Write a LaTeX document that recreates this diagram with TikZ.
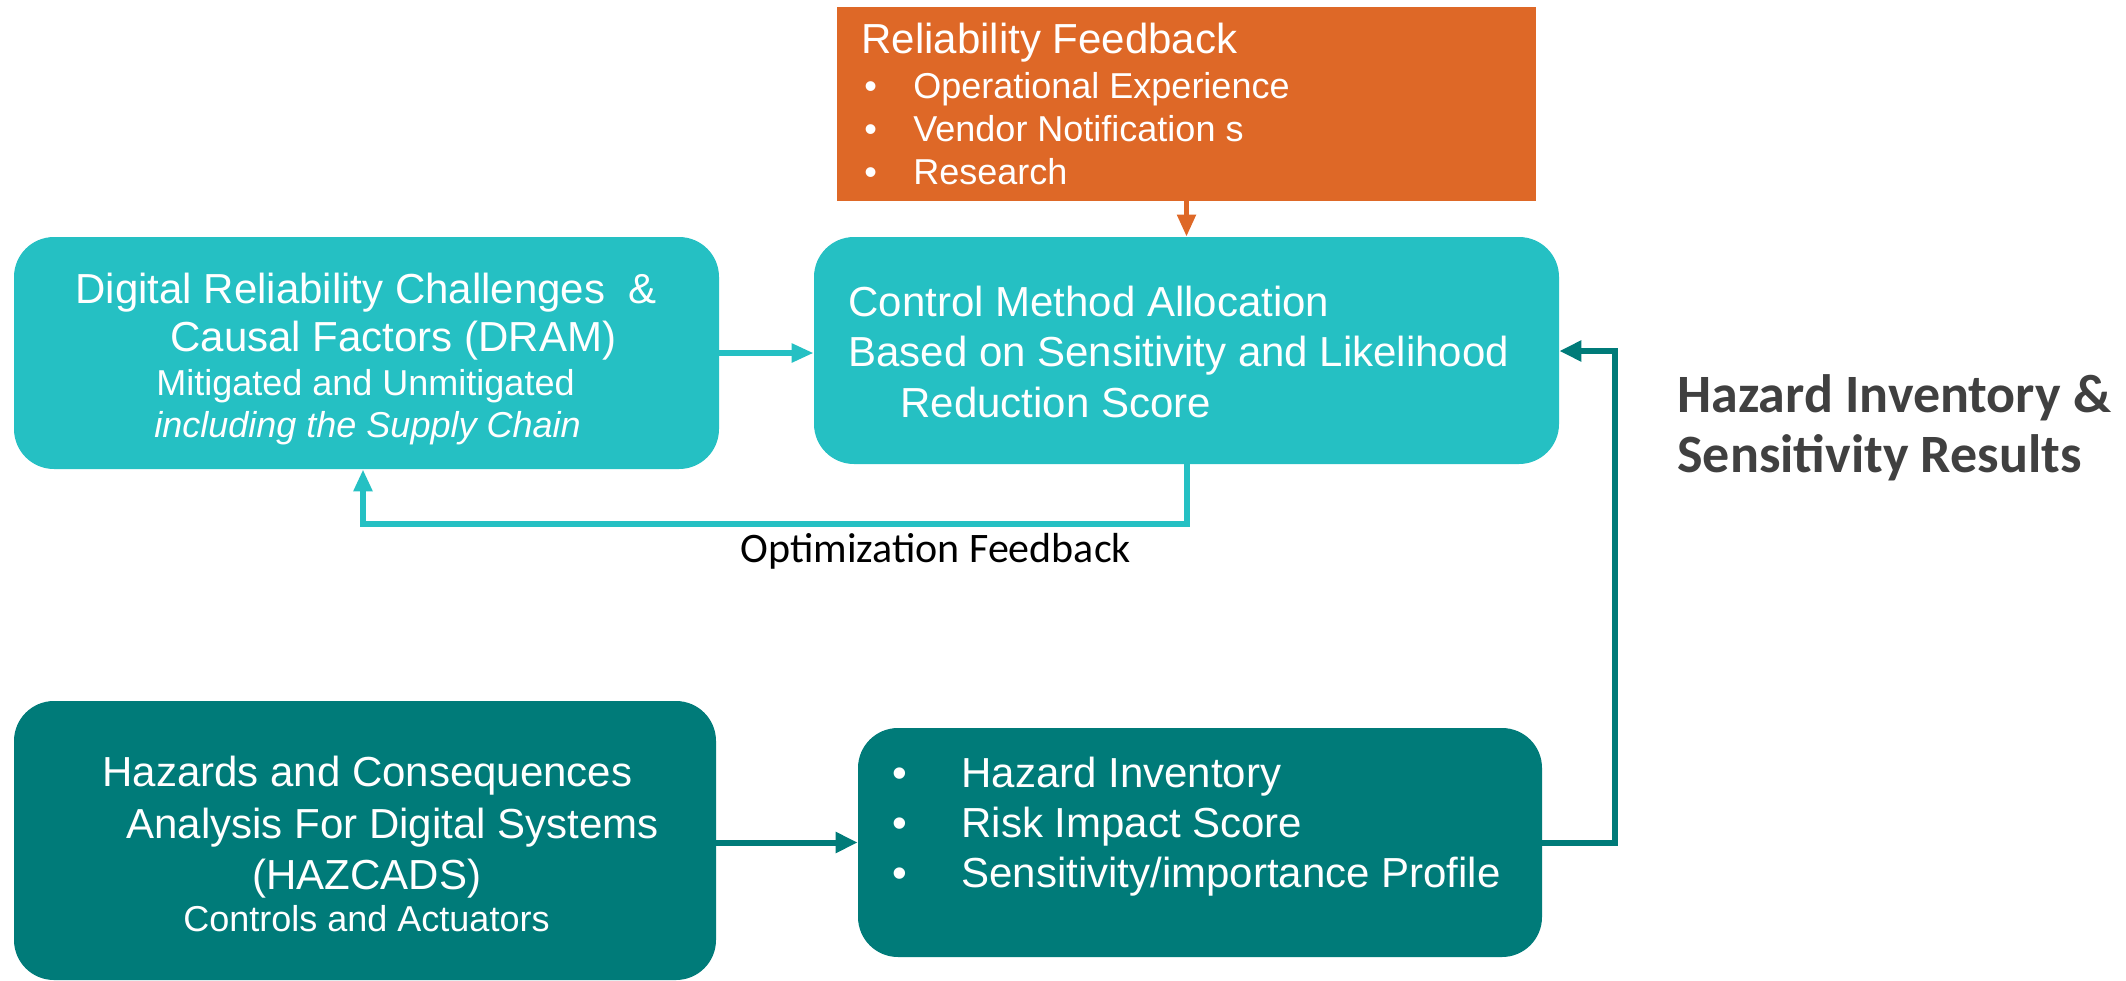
\documentclass[tikz,border=0pt]{standalone}
\usepackage{fontspec}
\setmainfont{Liberation Sans}
\newfontfamily\calfont{Carlito}
\usetikzlibrary{arrows.meta,fit}
\definecolor{lteal}{HTML}{25C0C3}
\definecolor{dteal}{HTML}{007B79}
\definecolor{rforange}{HTML}{DE6827}
\definecolor{labelgray}{HTML}{404040}
\newcommand\bul[1]{\makebox[#1][l]{\textbullet}}

\begin{document}
\begin{tikzpicture}[x=0.5pt,y=-0.5pt,
  lbox/.style={fill=lteal, rounded corners=20pt, inner sep=0pt},
  dbox/.style={fill=dteal, rounded corners=20pt, inner sep=0pt},
  obox/.style={fill=rforange, inner sep=0pt},
  big/.style={anchor=base west, inner sep=0pt, text=white, font=\fontsize{21}{25}\selectfont},
  small/.style={anchor=base west, inner sep=0pt, text=white, font=\fontsize{18}{22}\selectfont},
  side/.style={anchor=base west, inner sep=0pt, text=labelgray, font=\calfont\bfseries\fontsize{27}{31}\selectfont},
  note/.style={anchor=base west, inner sep=0pt, text=black, font=\calfont\fontsize{21}{25}\selectfont},
  ltarrow/.style={draw=lteal, line width=3pt, -{Triangle[length=11pt,width=9pt]}},
  dtarrow/.style={draw=dteal, line width=3pt, -{Triangle[length=11pt,width=10pt]}},
  orarrow/.style={draw=rforange, line width=2.5pt, -{Triangle[length=11pt,width=9pt]}}
]
\useasboundingbox (0,0) rectangle (2126,980);

% boxes
\node[obox, fit={(837,7) (1536,201)}] (rf) {};
\node[lbox, fit={(14,237) (719,469)}] (dram) {};
\node[lbox, fit={(814,237) (1559,464)}] (cma) {};
\node[dbox, fit={(14,701) (716,980)}] (haz) {};
\node[dbox, fit={(858,728) (1542,957)}] (hi) {};

% reliability feedback text
\node[big] (rft) at (861,53) {Reliability Feedback};
\node[small] (rf1) at (864,98) {\bul{24.5pt}Operational Experience};
\node[small] (rf2) at (864,141) {\bul{24.5pt}Vendor Notification s};
\node[small] (rf3) at (864,184) {\bul{24.5pt}Research};

% DRAM text
\node[big] (dr1) at (75,303) {Digital Reliability Challenges\ \ \&};
\node[big] (dr2) at (170,351) {Causal Factors (DRAM)};
\node[small] (dr3) at (156,395) {Mitigated and Unmitigated};
\node[small] (dr4) at (154,437) {\itshape including the Supply Chain};

% control method allocation text
\node[big] (cm1) at (848,316) {Control Method Allocation};
\node[big] (cm2) at (848,366) {Based on Sensitivity and Likelihood};
\node[big] (cm3) at (900,417) {Reduction Score};

% HAZCADS text
\node[big] (hz1) at (102,786) {Hazards and Consequences};
\node[big] (hz2) at (126,838) {Analysis For Digital Systems};
\node[big] (hz3) at (252,889) {(HAZCADS)};
\node[small] (hz4) at (183,931) {Controls and Actuators};

% results text
\node[big] (hi1) at (892,787) {\bul{34.5pt}Hazard Inventory};
\node[big] (hi2) at (892,837) {\bul{34.5pt}Risk Impact Score};
\node[big] (hi3) at (892,887) {\bul{34.5pt}Sensitivity/importance Profile};

% side label
\node[side] (sl1) at (1677,412) {Hazard Inventory \&};
\node[side] (sl2) at (1677,472) {Sensitivity Results};

% connectors
\coordinate (fb) at (363,524);
\coordinate (rt) at (1615,351);
\draw[orarrow] (rf.south) -- (cma.north);
\draw[ltarrow] (dram.east) -- (dram.east -| cma.west);
\draw[ltarrow] (cma.south) |- (fb) -- (fb |- dram.south);
\draw[dtarrow] (haz.east |- hi.west) -- (hi.west);
\draw[dtarrow] (hi.east) -| (rt) -- (rt -| cma.east);

\node[note] (opt) at (740,562) {Optimization Feedback};
\end{tikzpicture}
\end{document}
